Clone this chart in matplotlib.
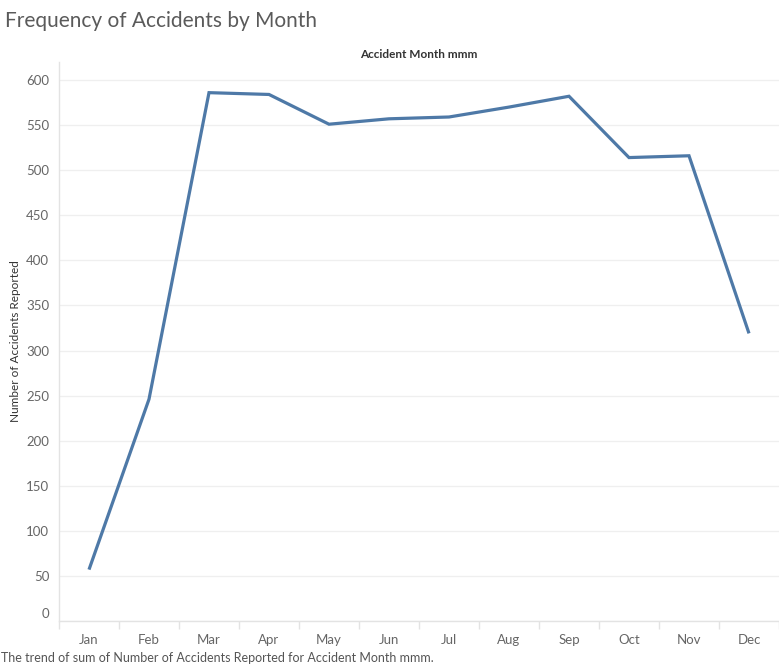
import matplotlib
matplotlib.use("Agg")
import matplotlib.pyplot as plt
import matplotlib.transforms as mtransforms
import numpy as np

months = ["Jan", "Feb", "Mar", "Apr", "May", "Jun", "Jul", "Aug", "Sep", "Oct", "Nov", "Dec"]
accidents = [57, 246, 586, 584, 551, 557, 559, 570, 582, 514, 516, 319]
y_ticks = [0, 50, 100, 150, 200, 250, 300, 350, 400, 450, 500, 550, 600]

plt.rcParams['font.family'] = ['Lato', 'DejaVu Sans']

W, H = 779, 672
fig = plt.figure(figsize=(W / 100, H / 100), dpi=100)
fig.patch.set_facecolor("white")

left, right, top, bottom = 59, 779, 62, 621
ax = fig.add_axes([left / W, 1 - bottom / H, (right - left) / W, (bottom - top) / H])

x = np.arange(len(months))
ax.plot(x, accidents, color="#4e79a7", lw=2.3, solid_joinstyle="miter", solid_capstyle="butt", zorder=3)

ax.set_xlim(-0.5, len(months) - 0.5)
ax.set_ylim(0, 620)

ax.set_yticks(y_ticks)
ax.set_yticklabels([str(v) for v in y_ticks])
ax.tick_params(axis="y", length=0, pad=7, labelsize=9.5, labelcolor="#666666")
ax.grid(axis="y", color="#efefef", lw=0.9, zorder=0)

ax.set_xticks(x)
ax.set_xticklabels(months)
ax.set_xticks(np.arange(-0.5, len(months)), minor=True)
ax.tick_params(axis="x", which="major", length=0, pad=9, labelsize=9.5, labelcolor="#666666")
ax.tick_params(axis="x", which="minor", length=6, color="#e3e3e3", width=1)

# shift "0" label upwards like the reference
for lbl in ax.get_yticklabels():
    if lbl.get_text() == "0":
        lbl.set_transform(lbl.get_transform() + mtransforms.ScaledTranslation(0, 8 / 100, fig.dpi_scale_trans))

for s in ["top", "right"]:
    ax.spines[s].set_visible(False)
for s in ["left", "bottom"]:
    ax.spines[s].set_color("#e3e3e3")
    ax.spines[s].set_linewidth(1)

fig.text(5 / W, 1 - 21 / H, "Frequency of Accidents by Month", fontsize=15, color="#5a5a5a",
         fontweight="normal", ha="left", va="center")
fig.text((left + right) / 2 / W, 1 - 54 / H, "Accident Month mmm", fontsize=8.5, color="#333333",
         fontweight="bold", ha="center", va="center")
fig.text(16 / W, 1 - 341 / H, "Number of Accidents Reported", fontsize=8.5, color="#333333",
         rotation=90, ha="center", va="center")
fig.text(1 / W, 1 - 658 / H, "The trend of sum of Number of Accidents Reported for Accident Month mmm.",
         fontsize=9, color="#555555", ha="left", va="center")

fig.savefig("out.png", dpi=100, facecolor="white")
